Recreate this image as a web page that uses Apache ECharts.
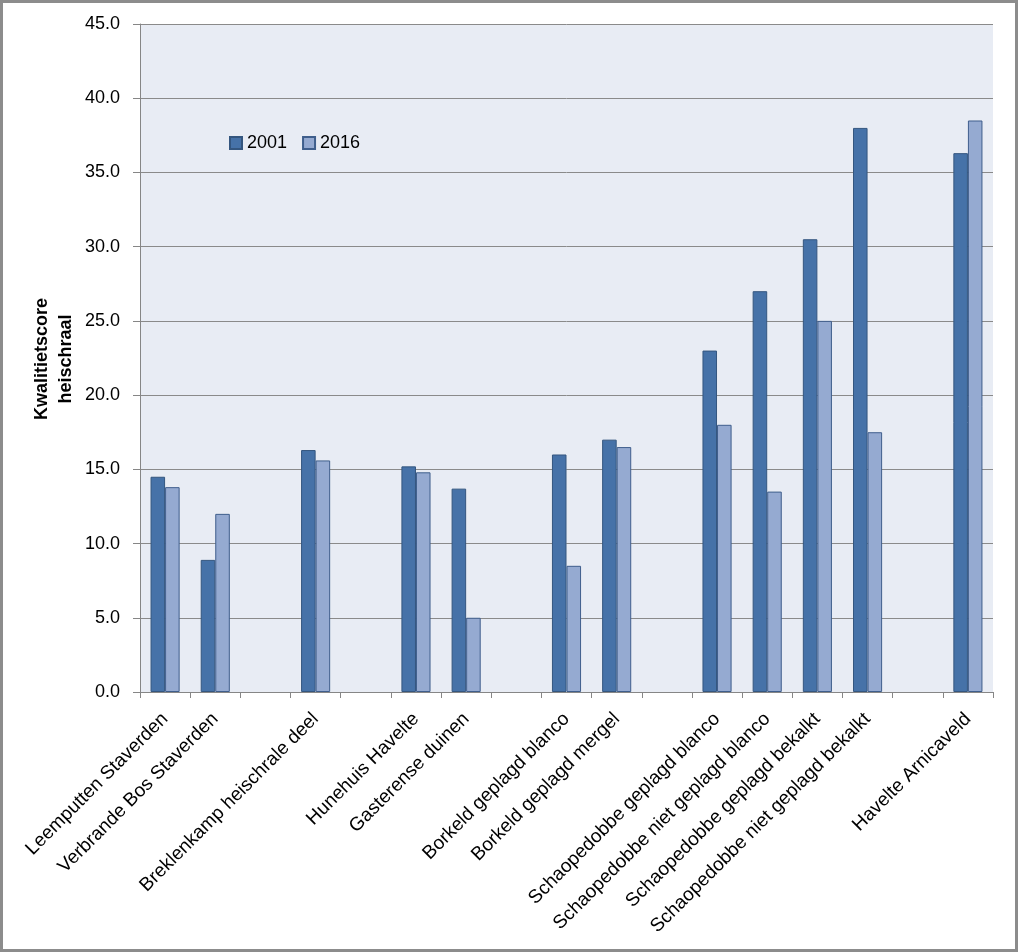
<!DOCTYPE html>
<html>
<head>
<meta charset="utf-8">
<script src="https://cdn.jsdelivr.net/npm/echarts@6/dist/echarts.min.js"></script>
<style>
html, body { margin: 0; padding: 0; background: #fff; }
#chart { width: 1018px; height: 952px; box-sizing: border-box; border: 3px solid #8c8c8c; }
</style>
</head>
<body>
<div id="chart"></div>
<script>
const categories = [
  'Leemputten Staverden',
  'Verbrande Bos Staverden',
  ' ',
  'Breklenkamp heischrale deel',
  '  ',
  'Hunehuis Havelte',
  'Gasterense duinen',
  '   ',
  'Borkeld geplagd blanco',
  'Borkeld geplagd mergel',
  '    ',
  'Schaopedobbe geplagd blanco',
  'Schaopedobbe niet geplagd blanco',
  'Schaopedobbe geplagd bekalkt',
  'Schaopedobbe niet geplagd bekalkt',
  '     ',
  'Havelte Arnicaveld'
];
const values2001 = [14.5, 8.9, null, 16.3, null, 15.2, 13.7, null, 16.0, 17.0, null, 23.0, 27.0, 30.5, 38.0, null, 36.3];
const values2016 = [13.8, 12.0, null, 15.6, null, 14.8, 5.0, null, 8.5, 16.5, null, 18.0, 13.5, 25.0, 17.5, null, 38.5];
const seriesNames = ['2001', '2016'];
const yTitle = 'Kwalitietscore\nheischraal';

const FONT = 'Liberation Sans';
const chart = echarts.init(document.getElementById('chart'), null, { renderer: 'canvas' });
chart.setOption({
  animation: false,
  backgroundColor: '#ffffff',
  textStyle: { fontFamily: FONT },
  grid: { left: 137, top: 21, right: 22, bottom: 257, containLabel: false,
          show: true, backgroundColor: '#E8ECF4', borderWidth: 0 },
  graphic: [{
    type: 'text',
    x: 51, y: 356,
    rotation: Math.PI / 2,
    style: {
      text: yTitle,
      fontSize: 18, fontWeight: 'bold', fill: '#000', fontFamily: FONT,
      lineHeight: 24, align: 'center', verticalAlign: 'middle'
    }
  }],
  legend: {
    left: 221, top: 126,
    icon: 'rect',
    itemWidth: 12, itemHeight: 12, itemGap: 15,
    textStyle: { fontSize: 18, color: '#000', fontFamily: FONT },
    data: seriesNames
  },
  xAxis: {
    type: 'category',
    data: categories,
    boundaryGap: true,
    axisLine: { show: true, lineStyle: { color: '#868686', width: 1 } },
    axisTick: { show: true, interval: 0, length: 6, lineStyle: { color: '#868686' } },
    axisLabel: { interval: 0, rotate: 45, margin: 24, fontSize: 19, color: '#000', fontFamily: FONT },
    splitLine: { show: false }
  },
  yAxis: {
    type: 'value',
    min: 0, max: 45, interval: 5,
    axisLine: { show: true, lineStyle: { color: '#868686', width: 1 } },
    axisTick: { show: true, length: 7, lineStyle: { color: '#868686' } },
    axisLabel: { fontSize: 18, color: '#000', margin: 20, fontFamily: FONT,
                 formatter: v => v.toFixed(1) },
    splitLine: { show: true, lineStyle: { color: '#8a8a8a', width: 1 } }
  },
  series: [
    {
      name: seriesNames[0], type: 'bar', data: values2001,
      barGap: '0%', barCategoryGap: '42%',
      itemStyle: { color: '#4672A8', borderColor: '#34567F', borderWidth: 1 }
    },
    {
      name: seriesNames[1], type: 'bar', data: values2016,
      barGap: '0%', barCategoryGap: '42%',
      itemStyle: { color: '#95AAD1', borderColor: '#3F5E8C', borderWidth: 1 }
    }
  ]
});
</script>
</body>
</html>
